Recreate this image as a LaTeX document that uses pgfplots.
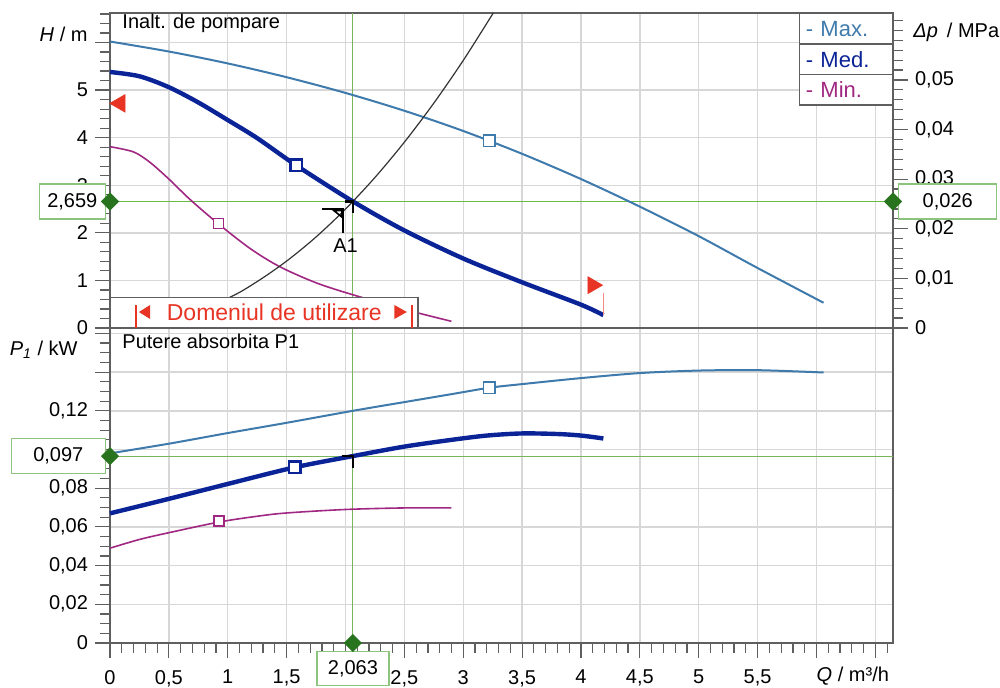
\documentclass[border=0pt]{standalone}
\usepackage{fontspec}
\setmainfont{Liberation Sans}
\usepackage{pgfplots}
\pgfplotsset{compat=1.18}

\definecolor{maxc}{RGB}{62,122,172}
\definecolor{medc}{RGB}{10,35,150}
\definecolor{minc}{RGB}{160,40,130}
\definecolor{redc}{RGB}{232,52,36}
\definecolor{redl}{RGB}{240,140,130}
\definecolor{greenl}{RGB}{120,180,90}
\definecolor{greenh}{RGB}{105,185,70}
\definecolor{greend}{RGB}{40,115,30}
\definecolor{boxg}{RGB}{140,195,125}
\definecolor{gridc}{RGB}{215,215,215}
\definecolor{axisc}{RGB}{95,95,95}

\newcommand{\fs}{\fontsize{10}{12}\selectfont}

\pgfplotsset{
  common/.style={
    scale only axis, width=391.5pt, height=157.5pt,
    xmin=0, xmax=6.65,
    tick align=outside, major tick length=7.5pt, minor tick length=5pt,
    axis line style={axisc, line width=0.7pt},
    tick style={axisc, line width=0.6pt},
    major grid style={gridc, line width=0.7pt},
    tick label style={font=\fs},
    scaled y ticks=false, scaled x ticks=false,
    clip=false, set layers,
  },
  diamond/.style={only marks, mark=square*, mark size=3pt, mark options={greend, fill=greend, rotate=45}},
}
\tikzset{refline/.style={draw=greenl, line width=0.5pt}}

\begin{document}
\begin{tikzpicture}

% ---------------- bottom axis: P1 ----------------
\begin{axis}[common, at={(0,0)}, anchor=south west,
  ymin=0, ymax=0.1628,
  ytick={0,0.02,0.04,0.06,0.08,0.1,0.12,0.14,0.16},
  yticklabels={0,{0,02},{0,04},{0,06},{0,08},,{0,12},,},
  minor ytick={0,0.005,...,0.161},
  xtick={0,0.5,1,1.5,2,2.5,3,3.5,4,4.5,5,5.5,6,6.5},
  xticklabels={0,{0,5},1,{1,5},,{2,5},3,{3,5},4,{4,5},5,{5,5},,},
  minor xtick={0,0.1,...,6.61},
  xticklabel style={yshift=-2.5pt},
  xtick pos=bottom, ytick pos=left, grid=major,
]
\draw[refline] (axis cs:0,0.0966) -- (axis cs:6.65,0.0966);
\draw[refline] (axis cs:2.063,0) -- (axis cs:2.063,0.1628);

\addplot[maxc, line width=1pt, smooth] coordinates {
 (0,0.098) (0.5,0.103) (1,0.1085) (1.5,0.1138) (2.063,0.120) (2.5,0.1245)
 (2.89,0.1285) (3.22,0.1319) (3.5,0.1338) (4,0.1369) (4.5,0.1395) (5,0.1408)
 (5.5,0.1410) (6.06,0.1398)};
\addplot[medc, line width=2.2pt, smooth] coordinates {
 (0,0.067) (0.5,0.0745) (1,0.0822) (1.57,0.0908) (2.063,0.0966) (2.5,0.1015)
 (2.89,0.1049) (3.2,0.1072) (3.5,0.1083) (3.8,0.1080) (4,0.1072) (4.19,0.1057)};
\addplot[minc, line width=0.8pt, smooth] coordinates {
 (0,0.049) (0.25,0.0535) (0.5,0.057) (0.925,0.0625) (1.25,0.0655) (1.5,0.0672)
 (2,0.0690) (2.5,0.0698) (2.9,0.0698)};

\addplot[only marks, mark=square*, mark size=2.9pt, mark options={draw=maxc, fill=white, line width=0.7pt}] coordinates {(3.22,0.1319)};
\addplot[only marks, mark=square*, mark size=2.9pt, mark options={draw=medc, fill=white, line width=1.3pt}] coordinates {(1.57,0.0908)};
\addplot[only marks, mark=square*, mark size=2.5pt, mark options={draw=minc, fill=white, line width=0.6pt}] coordinates {(0.925,0.063)};

% operating point hook
\draw[black, line width=1.4pt] (axis cs:1.967,0.0966) -- (axis cs:2.063,0.0966) -- (axis cs:2.063,0.0904);

\node[anchor=west, font=\fs] at (axis cs:0,0.1560) [xshift=2.7pt] {Putere absorbita P1};
\node[anchor=east, font=\fs] at (axis cs:0,0.1513) [xshift=-12.7pt] {\textit{P}\textsubscript{\textit{1}} / kW};
\node[anchor=east, font=\fs] at (axis cs:6.65,0) [xshift=1.5pt, yshift=-16.8pt] {\textit{Q} / m³/h};

\node[draw=boxg, fill=white, line width=0.7pt, minimum width=47pt, minimum height=17.5pt, inner sep=0pt, anchor=east, font=\fs] at (axis cs:0,0.0966) [xshift=-2pt] {0,097};
\node[draw=boxg, fill=white, line width=0.7pt, minimum width=36pt, minimum height=17pt, inner sep=0pt, anchor=north, font=\fs] at (axis cs:2.063,0) [yshift=-4pt] {2,063};
\addplot[diamond] coordinates {(0,0.0966)};
\addplot[diamond] coordinates {(2.063,0)};
\end{axis}

% ---------------- top axis: H ----------------
\begin{axis}[common, at={(0,157.5pt)}, anchor=south west,
  ymin=0, ymax=6.62,
  ytick={0,1,2,3,4,5,6}, yticklabels={0,1,2,3,4,5,},
  minor ytick={0,0.2,...,6.61},
  xtick={0,0.5,1,1.5,2,2.5,3,3.5,4,4.5,5,5.5,6,6.5}, xticklabels={},
  major x tick style={draw=none},
  ytick pos=left, grid=major,
]
\draw[refline] (axis cs:2.063,0) -- (axis cs:2.063,6.62);
\addplot[greenh, line width=0.7pt] coordinates {(0,2.659) (6.65,2.659)};

\addplot[maxc, line width=1pt, smooth] coordinates {
 (0,6.02) (0.5,5.81) (1,5.56) (1.5,5.27) (2,4.94) (2.5,4.565) (3,4.14)
 (3.5,3.66) (4,3.13) (4.5,2.55) (5,1.93) (5.5,1.26) (6.06,0.53)};
\addplot[medc, line width=2.2pt, smooth] coordinates {
 (0,5.38) (0.25,5.29) (0.5,5.06) (0.75,4.74) (1,4.37) (1.25,3.99) (1.58,3.42)
 (2.063,2.659) (2.5,2.05) (3,1.46) (3.5,0.96) (4,0.49) (4.19,0.27)};
\addplot[minc, line width=0.8pt, smooth] coordinates {
 (0,3.81) (0.2,3.70) (0.34,3.48) (0.5,3.13) (0.68,2.70) (0.92,2.19) (1.19,1.67)
 (1.44,1.29) (1.75,0.95) (2.06,0.70) (2.5,0.39) (2.9,0.14)};
% system curve
\addplot[black!80, line width=0.6pt, smooth] coordinates {
 (0,0) (0.5,0.156) (1,0.625) (1.25,0.976) (1.5,1.406) (1.75,1.913) (2,2.499)
 (2.25,3.163) (2.5,3.905) (2.75,4.725) (3,5.623) (3.255,6.62)};

\addplot[only marks, mark=square*, mark size=2.9pt, mark options={draw=maxc, fill=white, line width=0.7pt}] coordinates {(3.22,3.93)};
\addplot[only marks, mark=square*, mark size=2.9pt, mark options={draw=medc, fill=white, line width=1.3pt}] coordinates {(1.58,3.42)};
\addplot[only marks, mark=square*, mark size=2.5pt, mark options={draw=minc, fill=white, line width=0.6pt}] coordinates {(0.92,2.19)};

% range limits
\addplot[only marks, mark=triangle*, mark size=5pt, mark options={redc, rotate=90}] coordinates {(0.085,4.72)};
\addplot[only marks, mark=triangle*, mark size=4.8pt, mark options={redc, rotate=-90}] coordinates {(4.10,0.90)};
\draw[redl, line width=0.6pt] (axis cs:4.19,0.27) -- (axis cs:4.19,0.74);

% A1 symbol
\draw[black, line width=1.4pt] (axis cs:1.80,2.50) -- (axis cs:1.978,2.50) -- (axis cs:1.978,2.00);
\draw[black, line width=0.8pt] (axis cs:1.90,2.47) -- (axis cs:1.97,2.47) -- (axis cs:1.97,2.33) -- cycle;
\draw[black, line width=1.4pt] (axis cs:2.00,2.66) -- (axis cs:2.063,2.66) -- (axis cs:2.063,2.42);
\node[font=\fs] at (axis cs:2.0,1.74) {A1};

% usage range box
\draw[axisc, fill=white, line width=0.7pt] (axis cs:0,0) rectangle (axis cs:2.615,0.64);
\draw[redc, line width=1.3pt] (axis cs:0.22,0) -- (axis cs:0.22,0.48);
\draw[redc, line width=1.3pt] (axis cs:2.565,0) -- (axis cs:2.565,0.48);
\fill[redc] (axis cs:0.246,0.336) -- (axis cs:0.34,0.483) -- (axis cs:0.34,0.189) -- cycle;
\fill[redc] (axis cs:2.521,0.336) -- (axis cs:2.415,0.483) -- (axis cs:2.415,0.189) -- cycle;
\node[text=redc, font=\fontsize{11.5}{13}\selectfont] at (axis cs:1.395,0.34) {Domeniul de utilizare};

% texts
\node[anchor=west, font=\fs] at (axis cs:0,6.40) [xshift=2.7pt] {Inalt. de pompare};
\node[anchor=east, font=\fs] at (axis cs:0,6.18) [xshift=-7.7pt] {\textit{H} / m};

% legend
\node[draw=axisc, fill=white, line width=0.7pt, anchor=north east, minimum width=46.5pt, minimum height=15.2pt, text width=40pt, inner xsep=3.25pt, align=left, font=\fontsize{11}{13}\selectfont, text=maxc] at (rel axis cs:1,1) {- Max.};
\node[draw=axisc, fill=white, line width=0.7pt, anchor=north east, minimum width=46.5pt, minimum height=15.2pt, text width=40pt, inner xsep=3.25pt, align=left, font=\fontsize{11}{13}\selectfont, text=medc] at (rel axis cs:1,1) [yshift=-15.2pt] {- Med.};
\node[draw=axisc, fill=white, line width=0.7pt, anchor=north east, minimum width=46.5pt, minimum height=15.2pt, text width=40pt, inner xsep=3.25pt, align=left, font=\fontsize{11}{13}\selectfont, text=minc] at (rel axis cs:1,1) [yshift=-30.4pt] {- Min.};
\end{axis}

% ---------------- right axis: delta p ----------------
\begin{axis}[common, at={(0,157.5pt)}, anchor=south west,
  axis x line=none, axis y line*=right,
  ymin=0, ymax=0.0635,
  ytick={0,0.01,0.02,0.03,0.04,0.05},
  yticklabels={0,{0,01},{0,02},{0,03},{0,04},{0,05}},
  minor ytick={0,0.002,...,0.0631},
]
\node[anchor=west, font=\fs] at (axis cs:6.65,0.0597) [xshift=6.7pt] {\textit{Δp}\, / MPa};
\node[draw=boxg, fill=white, line width=0.7pt, minimum width=33pt, minimum height=17.5pt, inner sep=0pt, anchor=east, font=\fs] at (axis cs:0,0.02550) [xshift=-2pt] {2,659};
\node[draw=boxg, fill=white, line width=0.7pt, minimum width=49pt, minimum height=17.5pt, inner sep=0pt, anchor=west, font=\fs] at (axis cs:6.65,0.02550) [xshift=2.5pt] {0,026};
\addplot[diamond] coordinates {(0,0.02550)};
\addplot[diamond] coordinates {(6.65,0.02550)};
\end{axis}

\pgfresetboundingbox
\useasboundingbox (-55pt,-22.5pt) rectangle (445pt,321.5pt);
\end{tikzpicture}
\end{document}
